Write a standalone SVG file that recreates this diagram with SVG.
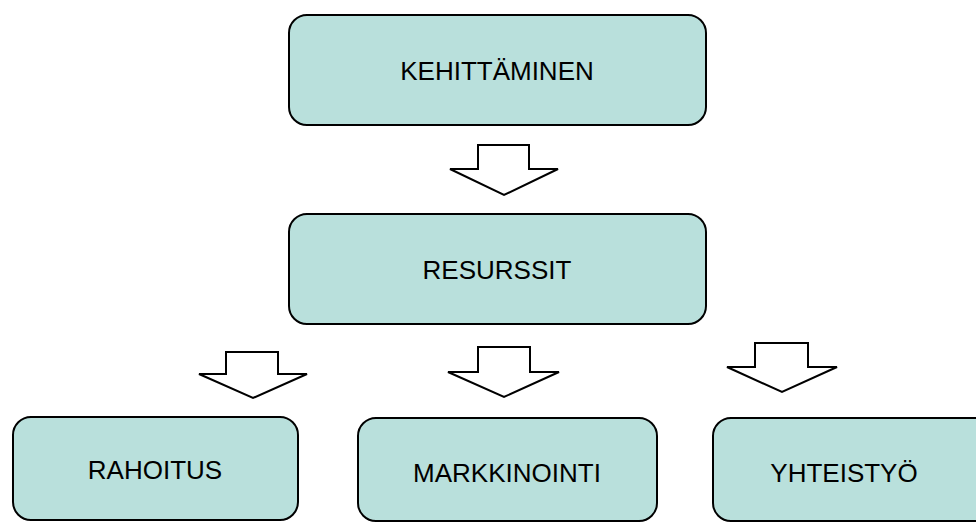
<svg xmlns="http://www.w3.org/2000/svg" width="976" height="522" viewBox="0 0 976 522">
<style>
.box{fill:#b9e0dc;stroke:#000;stroke-width:2}
.arr{fill:#fff;stroke:#000;stroke-width:2;stroke-linejoin:miter}
.lbl{font-family:"Liberation Sans",Arial,sans-serif;font-size:26px;fill:#000;text-anchor:middle}
</style>
<rect width="976" height="522" fill="#fff"/>
<g id="kehittaminen"><rect class="box" x="289" y="15" width="417" height="110" rx="18"/><text class="lbl" x="497" y="80">KEHITTÄMINEN</text></g>
<g id="resurssit"><rect class="box" x="289" y="214" width="417" height="110" rx="18"/><text class="lbl" x="497" y="279">RESURSSIT</text></g>
<g id="rahoitus"><rect class="box" x="13" y="417" width="285" height="103" rx="18"/><text class="lbl" x="155" y="479">RAHOITUS</text></g>
<g id="markkinointi"><rect class="box" x="358" y="418" width="299" height="103" rx="18"/><text class="lbl" x="507" y="482">MARKKINOINTI</text></g>
<g id="yhteistyo"><rect class="box" x="713" y="418" width="290" height="103" rx="18"/><text class="lbl" x="844" y="482">YHTEISTYÖ</text></g>
<g id="connectors">
<polygon class="arr" points="478,145 529,145 529,169 558,169 504,195 450,169 478,169"/>
<polygon class="arr" points="226,352 278,352 278,374 307,374 253,398 199,374 226,374"/>
<polygon class="arr" points="478,347 530,347 530,372 559,372 504,397 448,372 478,372"/>
<polygon class="arr" points="755,343 808,343 808,367 837,367 782,392 727,367 755,367"/>
</g>
</svg>
